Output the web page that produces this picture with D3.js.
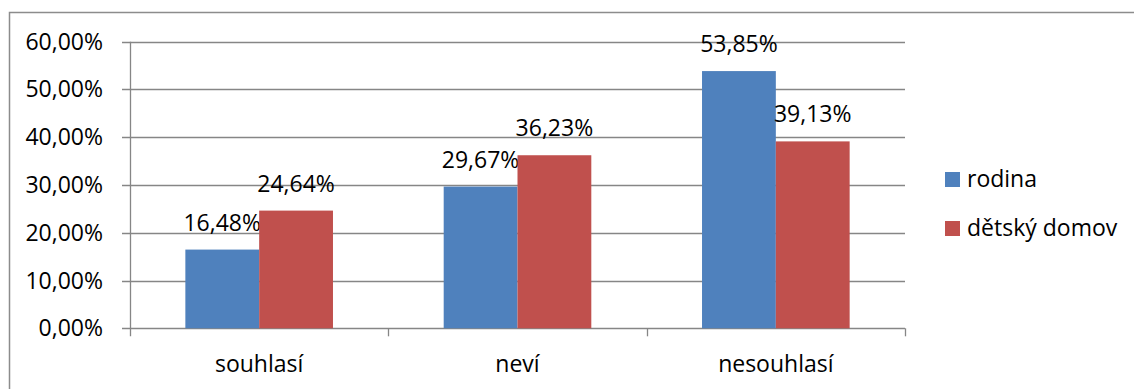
<!DOCTYPE html>
<html>
<head>
<meta charset="utf-8">
<script src="https://cdn.jsdelivr.net/npm/d3@7"></script>
<style>
  html, body { margin: 0; padding: 0; background: #fff; }
  svg { display: block; }
  text { font-family: "Open Sans", Lato, sans-serif; fill: #000; }
</style>
</head>
<body>
<svg id="chart" width="1134" height="389"></svg>
<script>
const categories = ["souhlasí", "neví", "nesouhlasí"];
const seriesNames = ["rodina", "dětský domov"];
const rodina = [16.48, 29.67, 53.85];
const detskyDomov = [24.64, 36.23, 39.13];
const yTicks = [0, 10, 20, 30, 40, 50, 60];
const colors = ["#4F81BD", "#C0504D"];

const seriesValues = [rodina, detskyDomov];
const fmt = v => d3.format(".2f")(v).replace(".", ",") + "%";

const svg = d3.select("#chart");
const fontSize = 23;

// outer chart frame
svg.append("rect")
  .attr("x", 9.5).attr("y", 12.5)
  .attr("width", 1140).attr("height", 400)
  .attr("fill", "none").attr("stroke", "#8c8c8c").attr("stroke-width", 1.5);

const plot = { left: 130, right: 905, top: 41.7, bottom: 328.3 };

const y = d3.scaleLinear().domain([0, 60]).range([plot.bottom, plot.top]);
const x = d3.scaleBand().domain(categories).range([plot.left, plot.right]).padding(0);
const xs = d3.scaleBand().domain(d3.range(seriesNames.length))
  .range([0, x.bandwidth()]).paddingInner(0).paddingOuter(0.75);

// horizontal gridlines with left ticks
svg.append("g").selectAll("line").data(yTicks).join("line")
  .attr("x1", plot.left - 8).attr("x2", plot.right)
  .attr("y1", d => Math.round(y(d)) + 0.5).attr("y2", d => Math.round(y(d)) + 0.5)
  .attr("stroke", "#868686").attr("stroke-width", 1.3);

// y axis line
svg.append("line")
  .attr("x1", plot.left + 0.5).attr("x2", plot.left + 0.5)
  .attr("y1", plot.top).attr("y2", plot.bottom + 8)
  .attr("stroke", "#868686").attr("stroke-width", 1.3);

// category ticks below axis
const catEdges = categories.map(c => x(c) + x.bandwidth());
svg.append("g").selectAll("line").data(catEdges).join("line")
  .attr("x1", d => Math.round(d) + 0.5).attr("x2", d => Math.round(d) + 0.5)
  .attr("y1", plot.bottom).attr("y2", plot.bottom + 8)
  .attr("stroke", "#868686").attr("stroke-width", 1.3);

// y tick labels
svg.append("g").selectAll("text").data(yTicks).join("text")
  .attr("x", 103).attr("y", d => y(d) + 8)
  .attr("text-anchor", "end").attr("font-size", fontSize)
  .text(d => fmt(d));

// bars with value labels
const groups = svg.append("g").selectAll("g").data(seriesValues).join("g")
  .attr("fill", (d, i) => colors[i]);
groups.each(function (vals, si) {
  const g = d3.select(this);
  g.selectAll("rect").data(vals).join("rect")
    .attr("x", (v, ci) => x(categories[ci]) + xs(si))
    .attr("width", xs.bandwidth())
    .attr("y", v => y(v))
    .attr("height", v => plot.bottom - y(v));
  g.selectAll("text").data(vals).join("text")
    .attr("x", (v, ci) => x(categories[ci]) + xs(si) + xs.bandwidth() / 2)
    .attr("y", v => y(v) - 19)
    .attr("text-anchor", "middle").attr("font-size", fontSize)
    .style("fill", "#000")
    .text(v => fmt(v));
});

// category labels
svg.append("g").selectAll("text").data(categories).join("text")
  .attr("x", d => x(d) + x.bandwidth() / 2).attr("y", 372)
  .attr("text-anchor", "middle").attr("font-size", fontSize)
  .text(d => d);

// legend
const legend = svg.append("g").selectAll("g").data(seriesNames).join("g")
  .attr("transform", (d, i) => `translate(945, ${172 + i * 49})`);
legend.append("rect").attr("width", 15).attr("height", 15)
  .attr("fill", (d, i) => colors[i]);
legend.append("text").attr("x", 22).attr("y", 15)
  .attr("font-size", fontSize).text(d => d);
</script>
</body>
</html>
